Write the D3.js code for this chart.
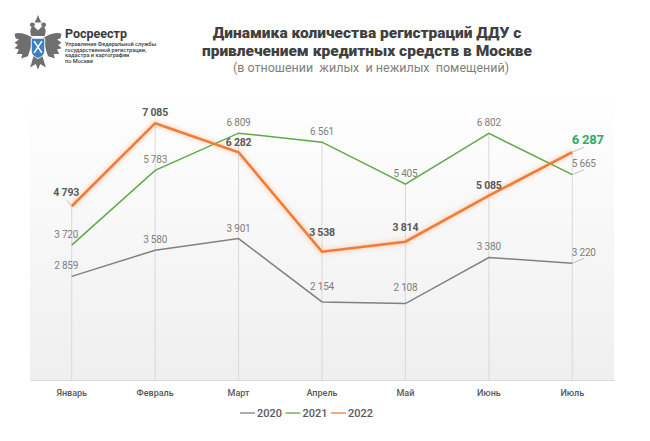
<!DOCTYPE html>
<html>
<head>
<meta charset="utf-8">
<script src="https://cdn.jsdelivr.net/npm/d3@7"></script>
<style>
  body { margin: 0; background: #fff; }
  svg { display: block; }
</style>
</head>
<body>
<div id="viz"></div>
<script>
// data
var months = ["Январь", "Февраль", "Март", "Апрель", "Май", "Июнь", "Июль"];
var years = ["2020", "2021", "2022"];
var values2020 = [2859, 3580, 3901, 2154, 2108, 3380, 3220];
var values2021 = [3720, 5783, 6809, 6561, 5405, 6802, 5665];
var values2022 = [4793, 7085, 6282, 3538, 3814, 5085, 6287];

// label lift above point (px), style only
var lift2020 = [10.5, 10.5, 10.5, 15.5, 16.5, 10.5, 11];
var lift2021 = [10.5, 10.5, 10.5, 10.5, 11, 11, 11.5];
var lift2022 = [13.5, 10.5, 9.5, 19, 14, 10, 13];

var W = 650, H = 441;
var plot = {left: 30, right: 614, top: 90, bottom: 380};

var svg = d3.select("#viz").append("svg").attr("width", W).attr("height", H);
var defs = svg.append("defs");

var grad = defs.append("linearGradient").attr("id", "bg").attr("x1", 0).attr("y1", 0).attr("x2", 0).attr("y2", 1);
grad.append("stop").attr("offset", "0%").attr("stop-color", "#ffffff");
grad.append("stop").attr("offset", "100%").attr("stop-color", "#efefef");

var glow = defs.append("filter").attr("id", "glow").attr("x", "-10%").attr("y", "-10%").attr("width", "120%").attr("height", "120%");
glow.append("feGaussianBlur").attr("stdDeviation", 2);

svg.append("rect")
  .attr("x", plot.left).attr("y", plot.top)
  .attr("width", plot.right - plot.left).attr("height", plot.bottom - plot.top)
  .attr("fill", "url(#bg)");

var x = d3.scaleBand().domain(months).range([plot.left, plot.right]);
var y = d3.scaleLinear().domain([0, 8000]).range([plot.bottom, plot.top]);
var cx = function(m) { return x(m) + x.bandwidth() / 2; };

// drop lines from the highest point of each month
var tops = months.map(function(m, i) { return Math.max(values2020[i], values2021[i], values2022[i]); });
svg.append("g").selectAll("line").data(months).enter().append("line")
  .attr("x1", function(d) { return cx(d); })
  .attr("x2", function(d) { return cx(d); })
  .attr("y1", function(d, i) { return y(tops[i]); })
  .attr("y2", plot.bottom)
  .attr("stroke", "#d9d9d9").attr("stroke-width", 1);

// x axis
var xAxis = svg.append("g").attr("transform", "translate(0," + plot.bottom + ")")
  .call(d3.axisBottom(x).tickSize(0).tickPadding(10));
xAxis.select(".domain").attr("stroke", "#d9d9d9");
xAxis.selectAll("text")
  .attr("fill", "#595959").attr("font-family", "Roboto, sans-serif")
  .attr("font-size", 9).attr("font-weight", 500);

var series = [
  {name: "2020", values: values2020, lift: lift2020, color: "#808080", width: 1.5},
  {name: "2021", values: values2021, lift: lift2021, color: "#5dab45", width: 1.5},
  {name: "2022", values: values2022, lift: lift2022, color: "#ef7d35", width: 2.6}
];

var line = d3.line()
  .x(function(d, i) { return cx(months[i]); })
  .y(function(d) { return y(d); });

// orange glow underneath
svg.append("path").datum(values2022)
  .attr("d", line).attr("fill", "none")
  .attr("stroke", "#f7b58a").attr("stroke-width", 5).attr("opacity", 0.5)
  .attr("filter", "url(#glow)");

series.forEach(function(s) {
  svg.append("path").datum(s.values)
    .attr("d", line).attr("fill", "none")
    .attr("stroke", s.color).attr("stroke-width", s.width)
    .attr("stroke-linejoin", "miter");
});

// leader lines for moved labels (Jan 2022 and all July)
var leaders = [];
leaders.push({px: cx(months[0]), py: y(values2022[0]), dx: -5, dy: -6});
series.forEach(function(s) {
  leaders.push({px: cx(months[6]), py: y(s.values[6]), dx: 12, dy: -5});
});
svg.append("g").selectAll("line").data(leaders).enter().append("line")
  .attr("x1", function(d) { return d.px; })
  .attr("y1", function(d) { return d.py; })
  .attr("x2", function(d) { return d.px + d.dx; })
  .attr("y2", function(d) { return d.py + d.dy; })
  .attr("stroke", "#bfbfbf").attr("stroke-width", 1);

// data labels
var fmt = function(v) { return d3.format(",")(v).replace(",", " "); };
series.forEach(function(s) {
  var isMain = s.name === "2022";
  svg.append("g").selectAll("text").data(s.values).enter().append("text")
    .attr("x", function(d, i) {
      if (i === 0) return cx(months[i]) - 5.5;
      if (i === 6) return cx(months[i]) - 0.5;
      return cx(months[i]);
    })
    .attr("y", function(d, i) { return y(d) - s.lift[i] + (isMain && i === 6 ? 4.5 : 3.5); })
    .attr("text-anchor", function(d, i) { return i === 6 ? "start" : "middle"; })
    .attr("font-family", "Roboto, sans-serif")
    .attr("font-size", function(d, i) { return isMain ? (i === 6 ? 13 : 10.5) : 10; })
    .attr("font-weight", isMain ? 700 : 400)
    .attr("fill", function(d, i) { return isMain ? (i === 6 ? "#2eaa6c" : "#595959") : "#7f7f7f"; })
    .attr("letter-spacing", -0.2)
    .text(function(d) { return fmt(d); });
});

// legend
var legend = svg.append("g").attr("transform", "translate(240,413)");
var lg = legend.selectAll("g").data(series).enter().append("g")
  .attr("transform", function(d, i) { return "translate(" + (i * 45.5) + ",0)"; });
lg.append("line").attr("x1", 0).attr("x2", 15).attr("y1", 0).attr("y2", 0)
  .attr("stroke", function(d) { return d.color; }).attr("stroke-width", 1.3);
lg.append("text").attr("x", 17).attr("y", 4)
  .attr("font-family", "Roboto, sans-serif").attr("font-size", 11).attr("font-weight", 500)
  .attr("fill", "#595959")
  .text(function(d) { return d.name; });

// titles
var title = svg.append("g").attr("font-family", "Roboto, sans-serif").attr("text-anchor", "middle");
title.append("text").attr("x", 367).attr("y", 38)
  .attr("font-size", 15.5).attr("font-weight", 900).attr("fill", "#404040")
  .text("Динамика количества регистраций ДДУ с");
title.append("text").attr("x", 367).attr("y", 56)
  .attr("font-size", 15.5).attr("font-weight", 900).attr("fill", "#404040")
  .text("привлечением кредитных средств в Москве");
title.append("text").attr("x", 371).attr("y", 72)
  .attr("font-size", 12.5).attr("font-weight", 400).attr("fill", "#808080")
  .attr("xml:space", "preserve")
  .text("(в отношении  жилых  и нежилых  помещений)");

// logo
var logo = svg.append("g").attr("transform", "translate(38,45) scale(1.12)");
var wing = "M-4,-6 C-10,-10 -16,-12 -21,-10 L-20,-6 -17,-5 -21,-2 -18,0 -21,3 -17,4 -19,8 -14,8 -15,12 -9,10 -7,4 Z";
logo.append("path").attr("d", wing).attr("fill", "#6f6f6f");
logo.append("path").attr("d", wing).attr("fill", "#6f6f6f").attr("transform", "scale(-1,1)");
logo.append("path").attr("d", "M-6,-8 C-8,-14 -6,-17 -3,-16 L0,-13 3,-16 C6,-17 8,-14 6,-8 Z").attr("fill", "#6f6f6f");
logo.append("path").attr("d", "M-3,-20 L-1,-24 0,-27 1,-24 3,-20 Z").attr("fill", "#6f6f6f");
logo.append("circle").attr("cx", -5).attr("cy", -18).attr("r", 2.2).attr("fill", "#6f6f6f");
logo.append("circle").attr("cx", 5).attr("cy", -18).attr("r", 2.2).attr("fill", "#6f6f6f");
logo.append("path").attr("d", "M-4,10 L-7,20 -2,17 0,22 2,17 7,20 4,10 Z").attr("fill", "#6f6f6f");
logo.append("path").attr("d", "M-6,-6 L6,-6 6,5 C6,9 3,11 0,12 C-3,11 -6,9 -6,5 Z")
  .attr("fill", "#3b7fc4").attr("stroke", "#ffffff").attr("stroke-width", 0.8);
logo.append("path").attr("d", "M-3.5,-3.5 L3.5,7 M3.5,-3.5 L-3.5,7")
  .attr("stroke", "#ffffff").attr("stroke-width", 1.4);

var lt = svg.append("g").attr("font-family", "Roboto, sans-serif").attr("fill", "#3a3a3a");
lt.append("text").attr("x", 65).attr("y", 38).attr("font-size", 12.5).attr("font-weight", 700).text("Росреестр");
var small = ["Управление Федеральной службы", "государственной регистрации,", "кадастра и картографии", "по Москве"];
lt.selectAll("text.s").data(small).enter().append("text").attr("class", "s")
  .attr("x", 65).attr("y", function(d, i) { return 46 + i * 5.6; })
  .attr("font-size", 5.6).attr("font-weight", 500)
  .text(function(d) { return d; });
</script>
</body>
</html>
